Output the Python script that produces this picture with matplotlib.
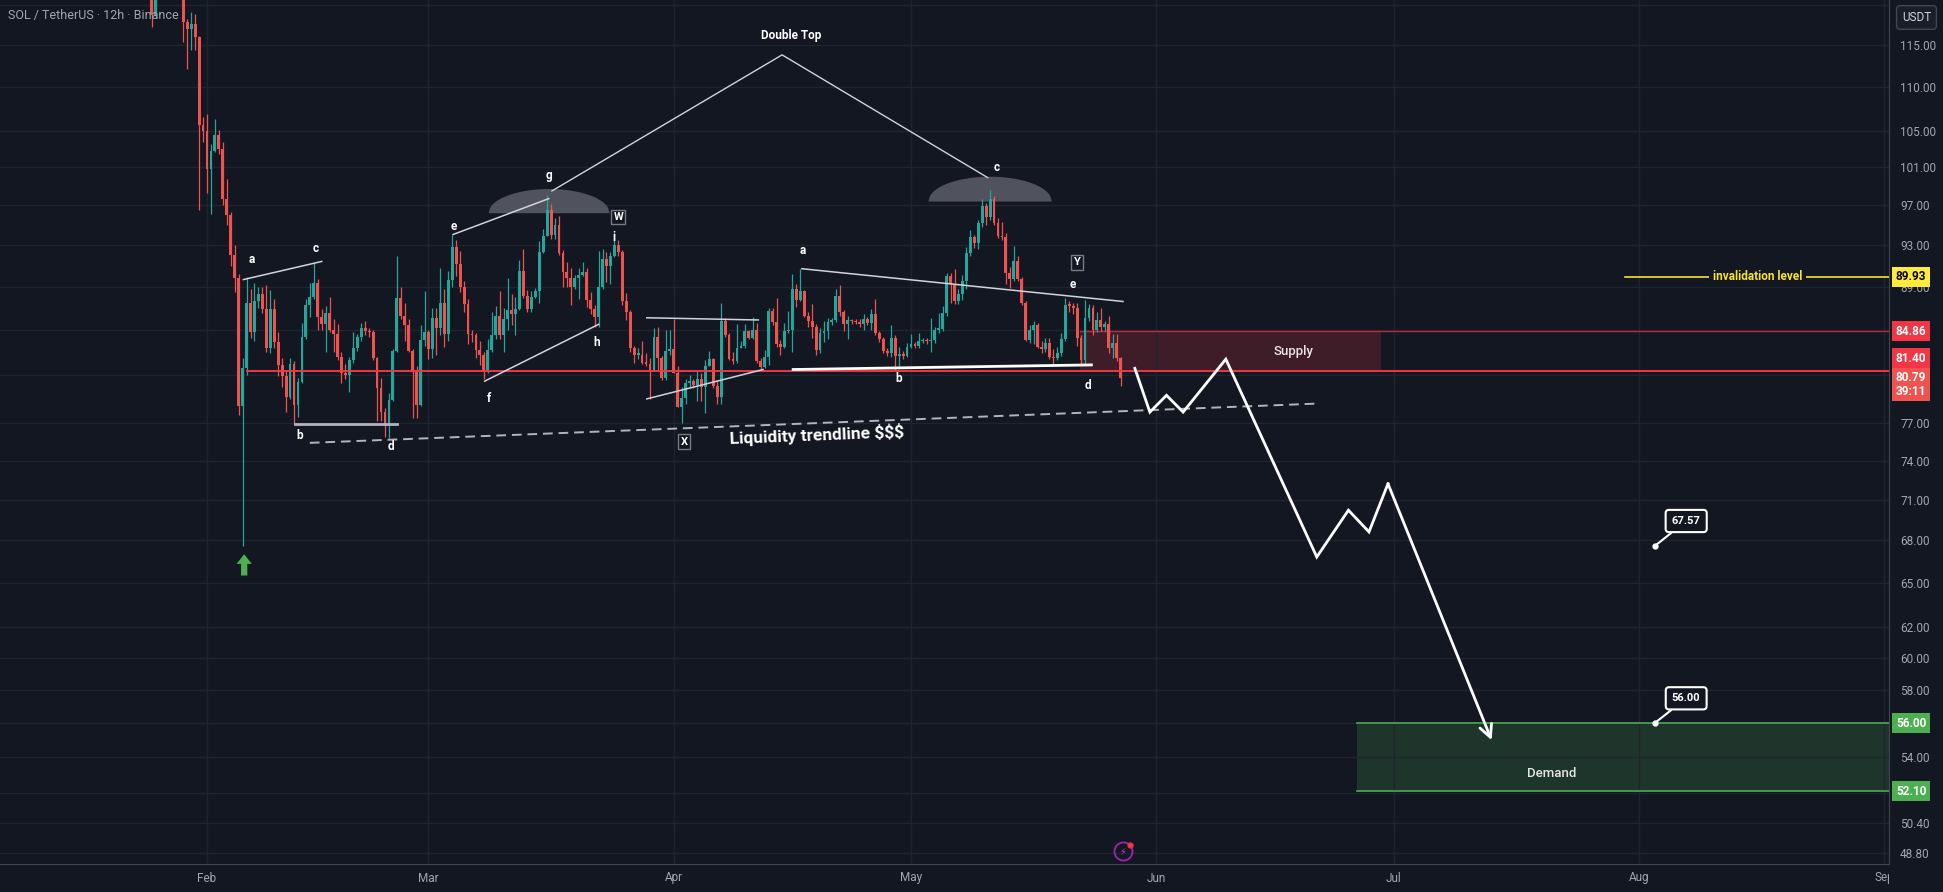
import datetime as dt
import numpy as np
import matplotlib
matplotlib.use("Agg")
import matplotlib.pyplot as plt
import matplotlib.dates as mdates
from matplotlib.ticker import NullLocator
from matplotlib.transforms import Bbox

BG = "#131722"
GRID = "#20242e"
UP = "#26a69a"
DOWN = "#ef5350"
TXT = "#a3a6af"
RED = "#f23645"
GREEN = "#4caf50"
YELLOW = "#f7e335"

# 12h candles, the first one opens on 24 Jan 2026 (open = previous close)
candle_start = dt.datetime(2026, 1, 24)
first_open = 124.0
closes = [123, 122, 118.7, 122.5, 124, 125.5, 124, 123.5, 122.8, 121.5,
          117.8, 117.0, 117.6, 116.0, 105.6, 105.0, 100.8, 102.8, 104.5, 103.0,
          97.7, 96.0, 92.0, 89.8, 78.4, 81.6, 87.5, 84.8, 87.6, 88.3,
          86.9, 83.4, 86.9, 83.9, 81.9, 80.9, 79.2, 82.0, 78.5, 80.4,
          84.4, 87.3, 88.0, 89.3, 86.2, 85.5, 86.5, 85.0, 84.6, 82.6,
          81.2, 81.0, 82.3, 83.4, 84.4, 85.2, 84.9, 84.8, 82.5, 79.9,
          77.9, 76.8, 78.9, 83.1, 87.9, 86.3, 85.4, 83.1, 81.3, 78.5,
          84.1, 84.8, 83.3, 86.1, 85.2, 87.5, 84.6, 89.6, 92.8, 91.2,
          89.0, 87.4, 84.6, 84.5, 83.2, 82.8, 81.3, 83.2, 84.5, 86.3,
          84.5, 86.0, 86.8, 86.4, 86.9, 90.5, 88.1, 86.9, 88.0, 88.6,
          92.3, 93.9, 96.5, 94.0, 95.0, 92.2, 90.4, 89.8, 89.0, 89.8,
          90.1, 90.4, 87.7, 86.9, 86.2, 89.0, 91.6, 91.0, 91.9, 93.0,
          92.3, 87.6, 86.6, 83.4, 82.8, 82.8, 82.1, 82.0, 81.5, 84.4,
          82.5, 80.8, 83.1, 83.3, 81.2, 78.3, 79.1, 80.3, 80.5, 80.2,
          80.7, 80.0, 81.8, 82.4, 80.1, 79.2, 85.8, 84.5, 82.4, 82.2,
          83.4, 83.6, 84.9, 84.3, 85.0, 82.2, 81.7, 82.6, 86.7, 85.7,
          83.7, 83.5, 84.9, 85.0, 88.8, 87.7, 88.6, 86.3, 85.8, 85.3,
          83.2, 84.7, 84.9, 85.7, 85.9, 88.1, 86.6, 85.5, 85.9, 85.8,
          85.7, 85.5, 86.0, 85.6, 86.4, 84.7, 84.2, 83.1, 82.9, 84.3,
          82.7, 82.8, 82.7, 83.5, 83.7, 83.6, 84.0, 84.1, 84.0, 84.1,
          85.0, 85.1, 86.5, 90.0, 89.2, 87.6, 88.3, 89.5, 92.2, 93.8,
          93.2, 95.2, 96.9, 95.8, 97.7, 95.2, 93.9, 93.8, 90.3, 89.7,
          91.4, 89.7, 87.5, 84.1, 85.0, 85.4, 83.5, 83.3, 83.8, 82.6,
          82.5, 82.9, 84.2, 87.3, 87.2, 87.0, 84.3, 82.3, 86.1, 87.0,
          85.0, 85.9, 85.3, 85.5, 83.4, 83.8, 82.5, 80.79]
highs = [125, 124.5, 123, 123.5, 125, 127, 126.5, 125.5, 124.5, 123.5,
         122.5, 118.2, 119.1, 118.8, 116.1, 106.5, 106.9, 103.5, 106.3, 105.1,
         103.7, 99.8, 96.3, 93.0, 90.2, 82.5, 89.9, 88.8, 89.3, 89.0,
         89.0, 89.1, 88.7, 87.8, 84.8, 82.5, 81.5, 82.5, 82.2, 80.8,
         85.6, 87.8, 89.3, 91.3, 89.7, 86.9, 87.2, 88.0, 86.0, 85.5,
         83.0, 82.0, 82.6, 84.8, 84.6, 85.6, 85.8, 85.2, 85.0, 82.6,
         80.8, 78.2, 79.5, 83.3, 91.9, 89.0, 87.5, 86.0, 83.3, 81.8,
         85.4, 88.6, 85.0, 87.0, 87.0, 90.8, 88.8, 90.5, 94.05, 93.5,
         92.4, 89.5, 87.8, 85.0, 84.7, 84.0, 83.0, 84.2, 86.6, 87.2,
         88.6, 87.0, 89.8, 88.3, 88.0, 91.5, 92.6, 88.7, 88.6, 88.9,
         93.4, 94.6, 98.1, 97.1, 95.7, 95.9, 92.5, 91.3, 90.8, 90.1,
         90.8, 91.3, 90.8, 88.5, 87.3, 92.4, 92.6, 92.3, 92.3, 94.3,
         93.5, 92.5, 88.4, 86.8, 83.6, 83.4, 84.0, 82.9, 82.5, 85.2,
         85.3, 82.7, 85.0, 85.0, 86.0, 81.8, 80.0, 80.7, 81.0, 80.7,
         81.5, 81.2, 82.3, 83.1, 82.5, 80.6, 87.5, 86.1, 84.7, 83.0,
         85.5, 84.0, 85.5, 85.0, 86.2, 85.6, 82.5, 83.2, 87.0, 87.0,
         87.9, 84.1, 85.6, 86.7, 90.2, 89.2, 90.7, 88.7, 86.6, 87.4,
         85.5, 85.2, 85.8, 86.1, 86.1, 88.8, 89.1, 86.8, 86.3, 86.0,
         86.0, 86.0, 86.4, 86.2, 86.9, 87.8, 84.9, 84.4, 83.4, 85.4,
         84.5, 83.5, 83.1, 83.8, 84.6, 83.9, 84.7, 84.3, 84.3, 86.1,
         85.3, 86.5, 87.2, 90.3, 90.3, 90.7, 88.8, 90.1, 92.8, 94.5,
         94.0, 95.5, 97.7, 97.2, 98.6, 98.0, 95.7, 95.3, 94.2, 90.9,
         92.9, 91.9, 89.9, 87.6, 85.4, 85.8, 85.6, 84.0, 84.3, 84.3,
         83.3, 83.5, 84.7, 87.9, 87.6, 87.5, 87.5, 84.5, 87.7, 87.4,
         87.3, 86.6, 87.0, 85.8, 86.3, 84.6, 84.6, 82.6]
lows = [122, 121.5, 117.2, 118.3, 121.5, 123, 122.5, 122, 121.5, 121.0,
        115.4, 112.1, 114.4, 114.4, 96.5, 103.7, 98.3, 96.1, 102.7, 102.4,
        97.0, 95.0, 91.0, 88.5, 77.7, 67.57, 81.0, 84.3, 84.0, 87.0,
        86.5, 83.0, 82.9, 83.4, 80.9, 80.0, 77.9, 79.0, 76.9, 77.5,
        80.3, 84.2, 86.2, 87.8, 85.0, 85.0, 83.0, 84.8, 83.0, 82.3,
        80.3, 80.7, 79.6, 82.1, 83.1, 84.0, 84.5, 84.4, 82.3, 77.2,
        77.2, 75.9, 75.8, 78.8, 83.0, 86.0, 84.0, 83.0, 77.4, 77.4,
        78.4, 83.6, 82.4, 82.5, 82.8, 84.5, 83.5, 84.0, 89.0, 90.0,
        88.5, 86.6, 83.7, 83.9, 82.5, 81.9, 80.7, 81.2, 83.0, 84.2,
        84.2, 83.0, 85.0, 85.4, 84.5, 86.8, 87.9, 86.6, 86.6, 87.9,
        87.5, 92.2, 93.9, 93.6, 93.6, 92.0, 89.0, 89.0, 87.3, 88.8,
        87.8, 90.0, 87.1, 86.4, 85.3, 85.3, 88.8, 89.4, 89.2, 91.8,
        91.9, 87.3, 85.9, 83.0, 82.1, 82.4, 82.0, 81.8, 79.0, 81.4,
        81.4, 80.6, 80.6, 82.8, 81.2, 78.3, 77.0, 78.6, 79.9, 79.9,
        78.8, 78.8, 77.8, 82.1, 79.9, 78.6, 78.6, 84.4, 82.3, 82.0,
        82.1, 83.4, 83.4, 84.2, 84.2, 82.1, 81.4, 81.6, 81.9, 85.4,
        83.5, 82.8, 83.4, 84.7, 83.0, 87.1, 87.6, 86.2, 85.3, 84.3,
        82.8, 82.9, 83.9, 84.2, 85.4, 85.7, 86.3, 84.9, 84.2, 85.5,
        85.5, 85.3, 85.0, 85.4, 85.0, 84.5, 83.9, 82.9, 82.7, 82.6,
        81.5, 81.8, 82.4, 82.6, 83.4, 83.4, 83.4, 83.8, 83.7, 83.0,
        83.8, 84.7, 84.9, 86.3, 87.5, 87.4, 87.4, 87.7, 88.8, 91.9,
        92.7, 92.6, 94.8, 95.0, 95.5, 95.0, 93.7, 93.5, 89.2, 88.9,
        89.5, 89.5, 87.3, 84.0, 83.8, 83.7, 83.4, 82.9, 83.0, 82.4,
        81.9, 82.3, 82.7, 84.0, 86.6, 86.4, 83.6, 81.8, 82.0, 85.8,
        84.5, 84.8, 84.9, 84.9, 82.9, 82.5, 82.2, 80.1]

# chart drawings: x = days after 1 Feb 2026, y = price (USDT)
price_ticks = [120, 115, 110, 105, 101, 97, 93, 89, 85, 81, 77, 74, 71, 68,
               65, 62, 60, 58, 56, 54, 52, 50.4, 48.8]
hidden_ticks = [120, 85, 81, 56, 52]  # covered by the badges on the scale
months = ["Feb", "Mar", "Apr", "May", "Jun", "Jul", "Aug", "Sep"]

double_top_x = [43.6, 72.7, 98.7]
double_top_y = [98.5, 113.8, 99.9]
domes = [(35.6, 50.9, 96.2, 98.7), (91.2, 106.8, 97.4, 100.0)]

wave_lines = [(4.6, 89.66, 14.5, 91.4),
              (31.1, 94.05, 43.2, 97.7),
              (35.1, 80.5, 49.5, 85.5),
              (55.6, 86.1, 69.7, 85.9),
              (55.6, 79.0, 70.3, 81.5),
              (75.2, 90.7, 115.8, 87.6)]
base_line_1 = (11.1, 76.95, 24.0, 76.95)
base_line_2 = (74.1, 81.5, 111.8, 81.9)

wave_labels = [("a", 5.7, 91.6), ("c", 13.7, 92.7), ("b", 11.7, 76.0),
               ("d", 23.2, 75.1), ("e", 31.2, 94.9), ("f", 35.7, 79.0),
               ("g", 43.2, 100.1), ("h", 49.3, 83.9), ("i", 51.5, 93.8),
               ("a", 75.3, 92.5), ("b", 87.4, 80.7), ("c", 99.8, 101.0),
               ("e", 109.4, 89.2), ("d", 111.4, 80.1)]
boxed_labels = [("W", 52.0, 95.8), ("X", 60.3, 75.5), ("Y", 110.0, 91.3)]

liquidity_x = [13.0, 140.1]
liquidity_y = [75.4, 78.6]

path_x = [117.3, 119.2, 121.3, 123.4, 128.8, 140.3, 144.3, 146.9, 149.3, 162.4]
path_y = [81.6, 77.9, 79.3, 77.9, 82.4, 66.8, 70.2, 68.6, 72.2, 55.0]

level_line = 81.40
level_start = 5.0
supply_top, supply_bottom = 84.86, 81.40
supply_from, supply_to = 110.4, 148.4
demand_top, demand_bottom = 56.00, 52.10
demand_from = 145.4
invalidation = 89.93
invalidation_from = 179.3
last_price = 80.79
callouts = [(183.0, 67.57, 187.0, 69.4), (183.0, 56.00, 187.0, 57.5)]

plt.rcParams["font.family"] = ["Roboto", "DejaVu Sans"]

W, H = 1943, 892
fig = plt.figure(figsize=(W / 100, H / 100), dpi=100, facecolor=BG)
ax = fig.add_axes([0, 1 - 864 / H, 1889 / W, 864 / H])
ax.set_facecolor(BG)

feb1 = mdates.date2num(dt.datetime(2026, 2, 1))


def X(d):
    return feb1 + np.asarray(d, dtype=float)


ax.set_yscale("log")
ax.set_ylim(48.23, 120.62)
ax.set_xlim(X(-26.17), X(212.64))

# grid and axes
ax.yaxis.tick_right()
ax.set_yticks(price_ticks, labels=["" if t in hidden_ticks else f"{t:.2f}"
                                   for t in price_ticks])
ax.yaxis.set_minor_locator(NullLocator())
ax.tick_params(axis="y", length=0, pad=8, labelsize=8.5, labelcolor=TXT)
month_x = [mdates.date2num(dt.datetime(2026, m, 1)) for m in range(2, 10)]
ax.set_xticks(month_x)
ax.xaxis.set_minor_locator(NullLocator())
ax.tick_params(axis="x", length=0, labelbottom=False)
ax.grid(True, color=GRID, lw=1)
for s in ["top", "left"]:
    ax.spines[s].set_visible(False)
for s in ["right", "bottom"]:
    ax.spines[s].set_color("#434651")

for mx, name in zip(month_x, months):
    t = ax.text(mx, -14 / 864, name, transform=ax.get_xaxis_transform(),
                ha="center", va="center", fontsize=8.5, color=TXT)
    t.set_clip_box(Bbox.from_extents(0, 0, 1889, H))
    t.set_clip_on(True)

# candles
c = np.array(closes)
o = np.r_[first_open, c[:-1]]
hi = np.maximum(np.array(highs), np.maximum(o, c))
lo = np.minimum(np.array(lows), np.minimum(o, c))
cx = mdates.date2num(candle_start) + 0.5 * np.arange(len(c))
cols = np.where(c >= o, UP, DOWN)
ax.vlines(cx, lo, hi, colors=cols, lw=0.9, zorder=3)
b_lo = np.minimum(o, c)
b_h = np.maximum(np.abs(c - o), b_lo * 0.0015)
ax.bar(cx, b_h, bottom=b_lo, width=0.36, color=cols, lw=0, zorder=3)

# supply / demand zones
ax.fill_between([X(supply_from), X(supply_to)], supply_bottom, supply_top,
                color=RED, alpha=0.2, lw=0, zorder=1)
ax.plot([X(supply_from), X(212.64)], [supply_top, supply_top], color=RED,
        alpha=0.7, lw=1, zorder=2)
ax.plot([X(level_start), X(212.64)], [level_line, level_line], color=RED,
        lw=1.4, zorder=4)
ax.text(X(137.3), 83.05, "Supply", color="#e6e6e6", fontsize=9.5,
        fontweight="medium", ha="center", va="center", zorder=5)

ax.fill_between([X(demand_from), X(212.64)], demand_bottom, demand_top,
                color=GREEN, alpha=0.2, lw=0, zorder=1)
for lvl in (demand_top, demand_bottom):
    ax.plot([X(demand_from), X(212.64)], [lvl, lvl], color=GREEN, lw=1.2,
            zorder=2)
ax.text(X(170.0), 53.1, "Demand", color="#e6e6e6", fontsize=9.5,
        fontweight="medium", ha="center", va="center", zorder=5)

# double top
t_arc = np.linspace(-1, 1, 80)
for d0, d1, yb, yt in domes:
    xs = X(d0 + (d1 - d0) * (t_arc + 1) / 2)
    ys = yb * (yt / yb) ** np.sqrt(1 - t_arc ** 2)
    ax.fill(xs, ys, color="#50535e", lw=0, zorder=2)
ax.plot(X(double_top_x), double_top_y, color="#d1d4dc", lw=1, zorder=4)
ax.text(X(73.8), 116.2, "Double Top", color="white", fontsize=8.5,
        fontweight="bold", ha="center", va="center", zorder=5)

# wave structure
for x0, y0, x1, y1 in wave_lines:
    ax.plot(X([x0, x1]), [y0, y1], color="#d1d4dc", lw=1.1, zorder=4)
ax.plot(X(base_line_1[::2]), base_line_1[1::2], color="#b2b5be", lw=2, zorder=4)
ax.plot(X(base_line_2[::2]), base_line_2[1::2], color="white", lw=2, zorder=4)
for s, d, p in wave_labels:
    ax.text(X(d), p, s, color="white", fontsize=8.5, fontweight="bold",
            ha="center", va="center", zorder=5)
for s, d, p in boxed_labels:
    ax.text(X(d), p, s, color="white", fontsize=8, fontweight="bold",
            ha="center", va="center", zorder=5,
            bbox=dict(boxstyle="square,pad=0.2", fc=BG, ec="#787b86", lw=1))

# liquidity trendline
ax.plot(X(liquidity_x), liquidity_y, color="#b2b5be", lw=1.4,
        dashes=(5, 3), zorder=4)
ax.text(X(77.1), 76.0, "Liquidity trendline $$$", color="white", fontsize=12.5,
        fontweight="bold", ha="center", va="center", rotation=2.3,
        rotation_mode="anchor", zorder=5)

# projected path
ax.plot(X(path_x[:-1]), path_y[:-1], color="white", lw=2, zorder=6,
        solid_joinstyle="miter")
ax.annotate("", xy=(X(path_x[-1]), path_y[-1]),
            xytext=(X(path_x[-2]), path_y[-2]),
            arrowprops=dict(arrowstyle="->,head_length=0.9,head_width=0.45",
                            color="white", lw=2, shrinkA=0, shrinkB=0),
            zorder=6)

# green arrow under the long wick
ax.annotate("", xy=(X(4.7), 67.0), xytext=(X(4.7), 65.5),
            arrowprops=dict(arrowstyle="simple,head_length=0.7,head_width=1.1,tail_width=0.45",
                            fc=GREEN, ec="none", mutation_scale=10,
                            shrinkA=0, shrinkB=0))

# invalidation level
ax.plot([X(invalidation_from), X(212.64)], [invalidation, invalidation],
        color=YELLOW, lw=1.2, zorder=4)
ax.text(X(196.0), invalidation, "invalidation level", color=YELLOW,
        fontsize=8.5, fontweight="bold", ha="center", va="center", zorder=5,
        bbox=dict(boxstyle="square,pad=0.3", fc=BG, ec="none"))

# callouts
for dd, pp, tx, ty in callouts:
    ax.plot(X(dd), pp, "o", color="white", ms=3.5, zorder=6)
    ax.annotate(f"{pp:.2f}", xy=(X(dd), pp), xytext=(X(tx), ty),
                color="white", fontsize=8, fontweight="bold",
                ha="center", va="center", zorder=6,
                bbox=dict(boxstyle="round,pad=0.55,rounding_size=0.3",
                          fc=BG, ec="white", lw=1.5),
                arrowprops=dict(arrowstyle="-", color="white", lw=1.5,
                                shrinkA=0, shrinkB=0))

# tradingview badge at the bottom
ax.plot(X(115.8), 48.88, "o", mfc="none", mec="#9c27b0", ms=13, mew=1.3,
        zorder=6)
ax.text(X(115.8), 48.88, "\u26a1", color="#b040c8", fontsize=7,
        ha="center", va="center", family="DejaVu Sans", zorder=6)
ax.plot(X(116.7), 49.2, "o", color=RED, ms=3.5, zorder=7)

# header
ax.text(8 / 1889, 1 - 16 / 864, "SOL / TetherUS \u00b7 12h \u00b7 Binance",
        transform=ax.transAxes, color=TXT, fontsize=9, ha="left",
        va="center", zorder=8)

# price scale badges
badges = [(invalidation, f"{invalidation:.2f}", "#ffeb3b", "black"),
          (supply_top, f"{supply_top:.2f}", RED, "white"),
          (82.5, f"{supply_bottom:.2f}", RED, "white"),
          (80.2, f"{last_price:.2f}\n39:11", "#ef5350", "white"),
          (demand_top, f"{demand_top:.2f}", GREEN, "white"),
          (demand_bottom, f"{demand_bottom:.2f}", GREEN, "white")]
for yp, s, fc, tc in badges:
    ax.annotate(s, xy=(1, yp), xycoords=("axes fraction", "data"),
                xytext=(5, 0), textcoords="offset points", ha="left",
                va="center", fontsize=8.5, fontweight="bold", color=tc,
                linespacing=1.05, annotation_clip=False, zorder=10,
                bbox=dict(boxstyle="square,pad=0.3", fc=fc, ec="none"))

fig.text(1916.5 / W, 1 - 17.5 / H, "USDT", color="#d1d4dc", fontsize=8.5,
         ha="center", va="center",
         bbox=dict(boxstyle="round,pad=0.45,rounding_size=0.3", fc="#1a1e29",
                   ec="#434651", lw=1))

fig.savefig("out.png", dpi=100, facecolor=BG)
